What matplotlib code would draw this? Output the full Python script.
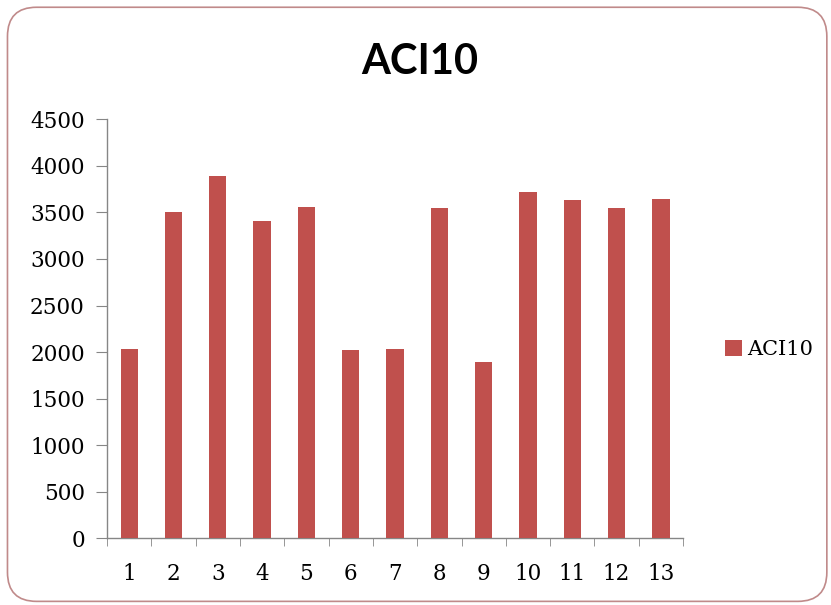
import matplotlib
matplotlib.use("Agg")
import matplotlib.pyplot as plt
from matplotlib.patches import FancyBboxPatch
import numpy as np

categories = [str(i) for i in range(1, 14)]
values = [2030, 3500, 3890, 3410, 3560, 2020, 2030, 3545, 1895, 3715, 3635, 3545, 3648]
series_name = "ACI10"
yticks = list(range(0, 4501, 500))

plt.rcParams['font.family'] = ['Lato', 'DejaVu Sans']
label_font = ['DejaVu Serif']

fig = plt.figure(figsize=(8.31, 6.05), dpi=100)
fig.patch.set_facecolor("white")

# rounded chart border, kept behind the axes
frame = FancyBboxPatch((0.009, 0.006), 0.986, 0.982, boxstyle="round,pad=0,rounding_size=0.035",
                       transform=fig.transFigure, facecolor="none", edgecolor="#c08a8a",
                       linewidth=1.2, mutation_aspect=831 / 605, zorder=-1)
fig.patches.append(frame)

ax = fig.add_axes([0.1288, 0.1102, 0.6932, 0.6926])
ax.patch.set_alpha(0)
x = np.arange(1, len(values) + 1)
ax.bar(x, values, width=0.39, color="#c0504d", label=series_name, zorder=3)

ax.set_xlim(0.5, len(values) + 0.5)
ax.set_ylim(0, 4500)
ax.set_yticks(yticks)
ax.set_xticks(x)
ax.set_xticklabels(categories)
ax.set_xticks(np.arange(0.5, len(values) + 1), minor=True)

for s in ["top", "right"]:
    ax.spines[s].set_visible(False)
for s in ["left", "bottom"]:
    ax.spines[s].set_color("#868686")
    ax.spines[s].set_linewidth(1.0)

ax.tick_params(axis="y", direction="out", length=8, color="#868686", labelsize=15.5, pad=8)
ax.tick_params(axis="x", which="major", length=0, labelsize=15.5, pad=18)
ax.tick_params(axis="x", which="minor", direction="out", length=6, color="#868686")
for lbl in ax.get_xticklabels() + ax.get_yticklabels():
    lbl.set_family(label_font)

fig.text(0.505, 0.898, "ACI10", ha="center", va="center", fontsize=30, fontweight="bold")

ax.legend(loc="center left", bbox_to_anchor=(1.04, 0.45), frameon=False,
          prop={'family': label_font, 'size': 15},
          handlelength=0.8, handleheight=0.8, handletextpad=0.25)

fig.savefig("out.png", dpi=100, facecolor="white")
